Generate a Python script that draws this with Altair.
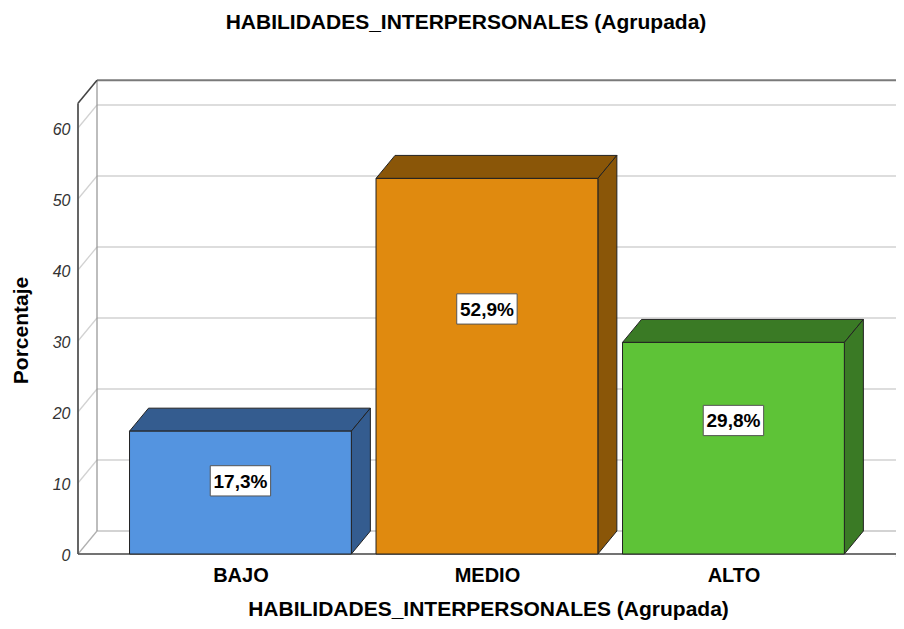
import json
import altair as alt
import pandas as pd

# ---- data ----
categories = ["BAJO", "MEDIO", "ALTO"]
values = [17.3, 52.9, 29.8]
value_labels = ["17,3%", "52,9%", "29,8%"]
front_colors = ["#5494E0", "#E08A0F", "#5EC337"]
dark_colors = ["#345C8F", "#8A5608", "#3A7A25"]
y_ticks = [0, 10, 20, 30, 40, 50, 60]
title_text = "HABILIDADES_INTERPERSONALES (Agrupada)"
y_title = "Porcentaje"

# ---- geometry / style constants (scale space) ----
FONT = "Liberation Sans"
W, H = 818, 474
XMIN = -0.659
XMAX = XMIN + W / 246.5
YMAX = H / 7.1
T = 63.5           # top of front axis
D = 23 / 7.1       # depth in y units
DX = 19 / 246.5    # depth in x units
HW = 0.45          # half bar width
XRF = 2.668        # front floor right end
XB = XMIN + DX

xs = alt.Scale(domain=[XMIN, XMAX], nice=False, zero=False)
ys = alt.Scale(domain=[0, YMAX], nice=False, zero=False)

X_AXIS = alt.Axis(
    values=[0, 1, 2],
    labelExpr=json.dumps(categories) + "[datum.value]",
    labelFont=FONT, labelFontSize=20, labelFontWeight="bold", labelColor="#000",
    labelPadding=11, ticks=False, domain=False, grid=False,
    title=title_text, titleFont=FONT, titleFontSize=21, titleFontWeight="bold",
    titleColor="#000", titleX=410, titleY=61, titleBaseline="alphabetic", titleAlign="center")
Y_AXIS = alt.Axis(
    values=y_ticks, labelFont=FONT, labelFontSize=16, labelFontStyle="italic",
    labelColor="#333", labelPadding=8, labelOffset=1.5, ticks=False, domain=False, grid=False,
    title=y_title, titleFont=FONT, titleFontSize=21, titleFontWeight="bold", titleColor="#000",
    titleX=-51, titleY=250, titleAngle=-90, titleBaseline="alphabetic", titleAlign="center")

def X(f):
    return alt.X(f, scale=xs, axis=X_AXIS)

def Y(f):
    return alt.Y(f, scale=ys, axis=Y_AXIS)

# ---- frame lines ----
rows = []
def line(x, y, x2, y2, c, w):
    rows.append(dict(x=x, y=y, x2=x2, y2=y2, c=c, w=w))

for v in y_ticks[1:]:
    line(XB, v + D, XMAX, v + D, "#d2d2d2", 1.3)
    line(XMIN, v, XB, v + D, "#d2d2d2", 1.3)
line(XB, D, XMAX, D, "#c4c4c4", 1.3)
line(XMIN, 0, XB, D, "#b0b0b0", 1.3)
t = (XMAX - XRF) / DX
line(XRF, 0, min(XMAX, XRF + DX), D * min(t, 1), "#777777", 1.3)
line(XB, D, XB, T + D, "#9a9a9a", 1.3)
line(XB, T + D, XMAX, T + D, "#7a7a7a", 2)
line(XMIN, T, XB, T + D, "#444444", 1.6)
line(XMIN, 0, XRF, 0, "#444444", 1.6)
line(XMIN, 0, XMIN, T, "#555555", 1.8)
lines_df = pd.DataFrame(rows)

frame = alt.Chart(lines_df).mark_rule().encode(
    x=X("x:Q"), y=Y("y:Q"), x2="x2:Q", y2="y2:Q",
    color=alt.Color("c:N", scale=None),
    size=alt.Size("w:Q", scale=None),
)

# ---- bars ----
front = pd.DataFrame(dict(
    cat=categories, x=[i - HW for i in range(3)], x2=[i + HW for i in range(3)],
    y=[0] * 3, y2=values, fill=front_colors))

top_rows, side_rows = [], []
for i, (c, v, dc) in enumerate(zip(categories, values, dark_colors)):
    top_rows.append(dict(cat=c, y=v, x=i - HW, x2=i + HW, fill=dc))
    top_rows.append(dict(cat=c, y=v + D, x=i - HW + DX, x2=i + HW + DX, fill=dc))
    side_rows.append(dict(cat=c, x=i + HW, y=0, y2=v, fill=dc))
    side_rows.append(dict(cat=c, x=i + HW + DX, y=D, y2=v + D, fill=dc))
top_df = pd.DataFrame(top_rows)
side_df = pd.DataFrame(side_rows)

top = alt.Chart(top_df).mark_area(orient="horizontal", stroke="#222", strokeWidth=1, opacity=1).encode(
    y=Y("y:Q"), x=X("x:Q"), x2="x2:Q",
    fill=alt.Fill("fill:N", scale=None), detail="cat:N")

side = alt.Chart(side_df).mark_area(orient="vertical", stroke="#222", strokeWidth=1, opacity=1).encode(
    x=X("x:Q"), y=Y("y:Q"), y2="y2:Q",
    fill=alt.Fill("fill:N", scale=None), detail="cat:N")

bars = alt.Chart(front).mark_rect(stroke="#222", strokeWidth=1).encode(
    x=X("x:Q"), x2="x2:Q", y=Y("y:Q"), y2="y2:Q",
    fill=alt.Fill("fill:N", scale=None))

# ---- value labels ----
lab = pd.DataFrame(dict(cat=categories, v=values, label=value_labels, i=list(range(3))))
lab_base = alt.Chart(lab).transform_calculate(
    ly="0.68*datum.v - 1.46",
    bx="datum.i - 0.1225", bx2="datum.i + 0.1225",
    by="datum.ly - 2.13", by2="datum.ly + 2.13")

boxes = lab_base.mark_rect(fill="white", stroke="#555", strokeWidth=1).encode(
    x=X("bx:Q"), x2="bx2:Q", y=Y("by:Q"), y2="by2:Q")

texts = lab_base.mark_text(font=FONT, fontSize=19, fontWeight="bold", color="#000",
                           align="center", baseline="middle", dy=1).encode(
    x=X("i:Q"), y=Y("ly:Q"), text="label:N")

chart = alt.layer(frame, top, side, bars, boxes, texts).properties(
    width=W, height=H,
    padding={"left": 70, "top": 72, "right": 0, "bottom": 67},
    autosize=alt.AutoSizeParams(type="none"),
    title=alt.TitleParams(title_text, font=FONT, fontSize=21, fontWeight="bold", color="#000",
                          anchor="middle", dx=-21, offset=35, baseline="middle"),
).configure_view(stroke=None)

chart.save("out.html", embed_options={"renderer": "svg", "actions": False})
